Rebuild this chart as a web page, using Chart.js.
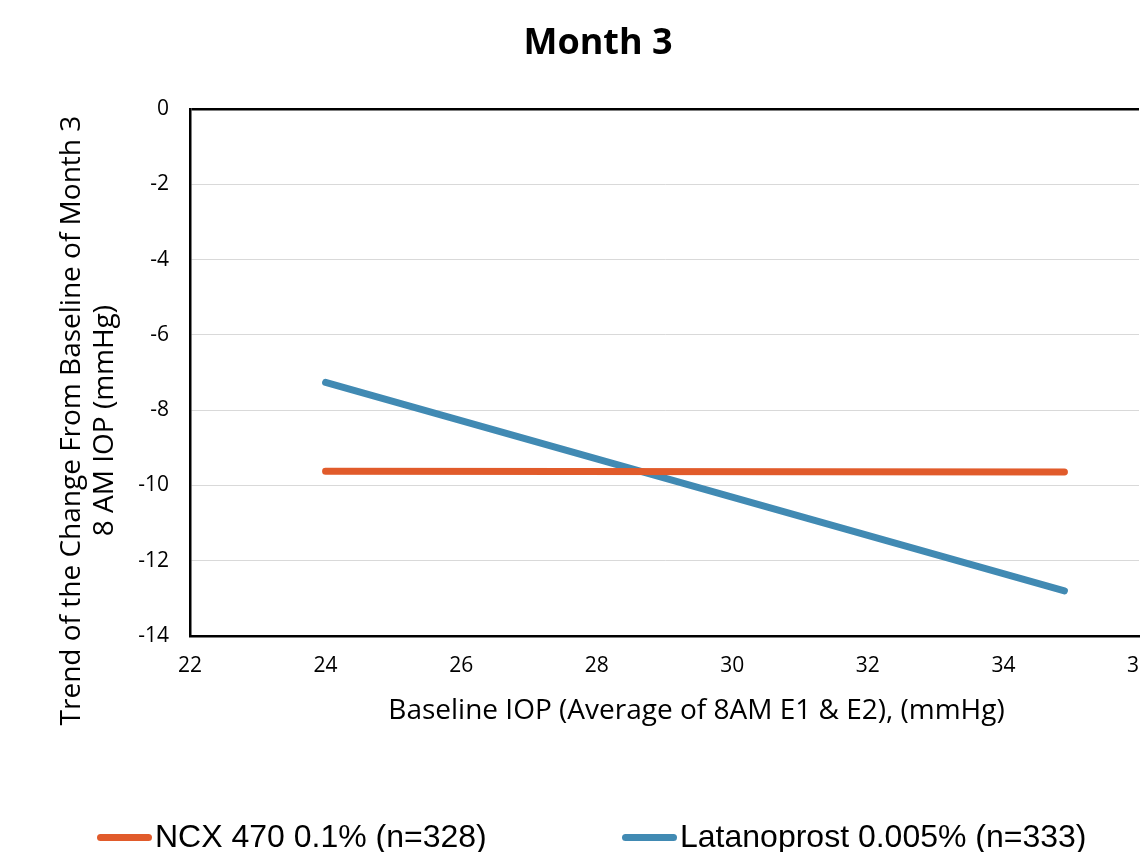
<!DOCTYPE html>
<html>
<head>
<meta charset="utf-8">
<script src="https://cdn.jsdelivr.net/npm/chart.js@4.4.1/dist/chart.umd.min.js"></script>
<style>
  html, body { margin: 0; padding: 0; background: #fff; overflow: hidden; }
  #wrap { position: relative; width: 1140px; height: 852px; overflow: hidden; }
  #box { position: absolute; left: 0; top: 0; width: 1180px; height: 852px; }
  .leg { position: absolute; top: 820px; font: 32px "Liberation Sans", Arial, sans-serif; line-height: 32px; white-space: nowrap; color: #000; }
  .leg i { position: absolute; height: 7px; border-radius: 4px; top: 14px; }
</style>
</head>
<body>
<div id="wrap">
  <div id="box"><canvas id="trendChart"></canvas></div>
  <div id="legend"></div>
</div>
<script>
'use strict'
// values
var seriesNames = ['NCX 470 0.1% (n=328)', 'Latanoprost 0.005% (n=333)'];
var seriesColors = ['#E15B2B', '#418AB3'];
var baselineIop = [24, 34.9];
var ncxTrend = [-9.62, -9.64];
var latanoTrend = [-7.26, -12.80];
var yTitleLines = ['Trend of the Change From Baseline of Month 3', '8 AM IOP (mmHg)'];
var xTitle = 'Baseline IOP (Average of 8AM E1 & E2), (mmHg)';

function toPoints(xs, ys) {
  var pts = [];
  for (var i = 0; i < xs.length; i++) {
    pts.push({x: xs[i], y: ys[i]});
  }
  return pts;
}

var allSeries = [ncxTrend, latanoTrend];
var datasets = [];
for (var s = 0; s < allSeries.length; s++) {
  datasets.push({
    label: seriesNames[s],
    data: toPoints(baselineIop, allSeries[s]),
    borderColor: seriesColors[s],
    backgroundColor: seriesColors[s],
    borderWidth: 7,
    borderCapStyle: 'round',
    pointRadius: 0,
    tension: 0
  });
}

// axis titles sit off-centre in the original (it was cropped), so draw them here
const axisTitlePlugin = {
  id: 'axisTitles',
  afterDraw(chart) {
    const ctx = chart.ctx;
    const area = chart.chartArea;
    ctx.save();
    ctx.font = '28px "Open Sans"';
    ctx.fillStyle = '#000';
    ctx.textAlign = 'center';
    ctx.textBaseline = 'middle';
    ctx.fillText(xTitle, (area.left + area.right) / 2 + 32, area.bottom + 75);
    ctx.translate(72, (area.top + area.bottom) / 2 + 48);
    ctx.rotate(-Math.PI / 2);
    for (var i = 0; i < yTitleLines.length; i++) {
      ctx.fillText(yTitleLines[i], 0, i * 33);
    }
    ctx.restore();
  }
};

const config = {
  type: 'line',
  data: { datasets: datasets },
  options: {
    responsive: true,
    maintainAspectRatio: false,
    animation: false,
    layout: { padding: { left: 57, right: 41, top: 0, bottom: 0 } },
    plugins: {
      legend: { display: false },
      tooltip: { enabled: false },
      title: {
        display: true,
        text: 'Month 3',
        color: '#000',
        font: { family: 'Open Sans', size: 36, weight: 'bold', lineHeight: 1.2 },
        padding: { top: 22, bottom: 44 }
      }
    },
    scales: {
      x: {
        type: 'linear',
        min: 22,
        max: 36,
        ticks: { stepSize: 2, color: '#000', padding: 17, font: { family: 'Open Sans', size: 21 } },
        grid: { display: false, drawTicks: false },
        border: { color: '#000', width: 2.5 },
        afterFit: function (scale) { scale.height = 216; }
      },
      y: {
        min: -14,
        max: 0,
        ticks: { stepSize: 2, color: '#000', padding: 21, font: { family: 'Open Sans', size: 21 } },
        grid: {
          drawTicks: false,
          lineWidth: function (c) { return c.tick && c.tick.value === 0 ? 2.5 : 1; },
          color: function (c) { return c.tick && c.tick.value === 0 ? '#000' : '#d9d9d9'; }
        },
        border: { color: '#000', width: 2.5 },
        afterFit: function (scale) { scale.width = 133; }
      }
    }
  },
  plugins: [axisTitlePlugin]
};

const trendChart = new Chart(document.getElementById('trendChart'), config);

// legend as html, built from the same arrays
var legendX = [97, 622];
var legend = document.getElementById('legend');
for (var k = 0; k < seriesNames.length; k++) {
  var item = document.createElement('div');
  item.className = 'leg';
  item.style.left = legendX[k] + 'px';
  item.style.paddingLeft = '58px';
  var swatch = document.createElement('i');
  swatch.style.left = '0px';
  swatch.style.width = '55px';
  swatch.style.background = seriesColors[k];
  item.appendChild(swatch);
  item.appendChild(document.createTextNode(seriesNames[k]));
  legend.appendChild(item);
}
</script>
</body>
</html>
